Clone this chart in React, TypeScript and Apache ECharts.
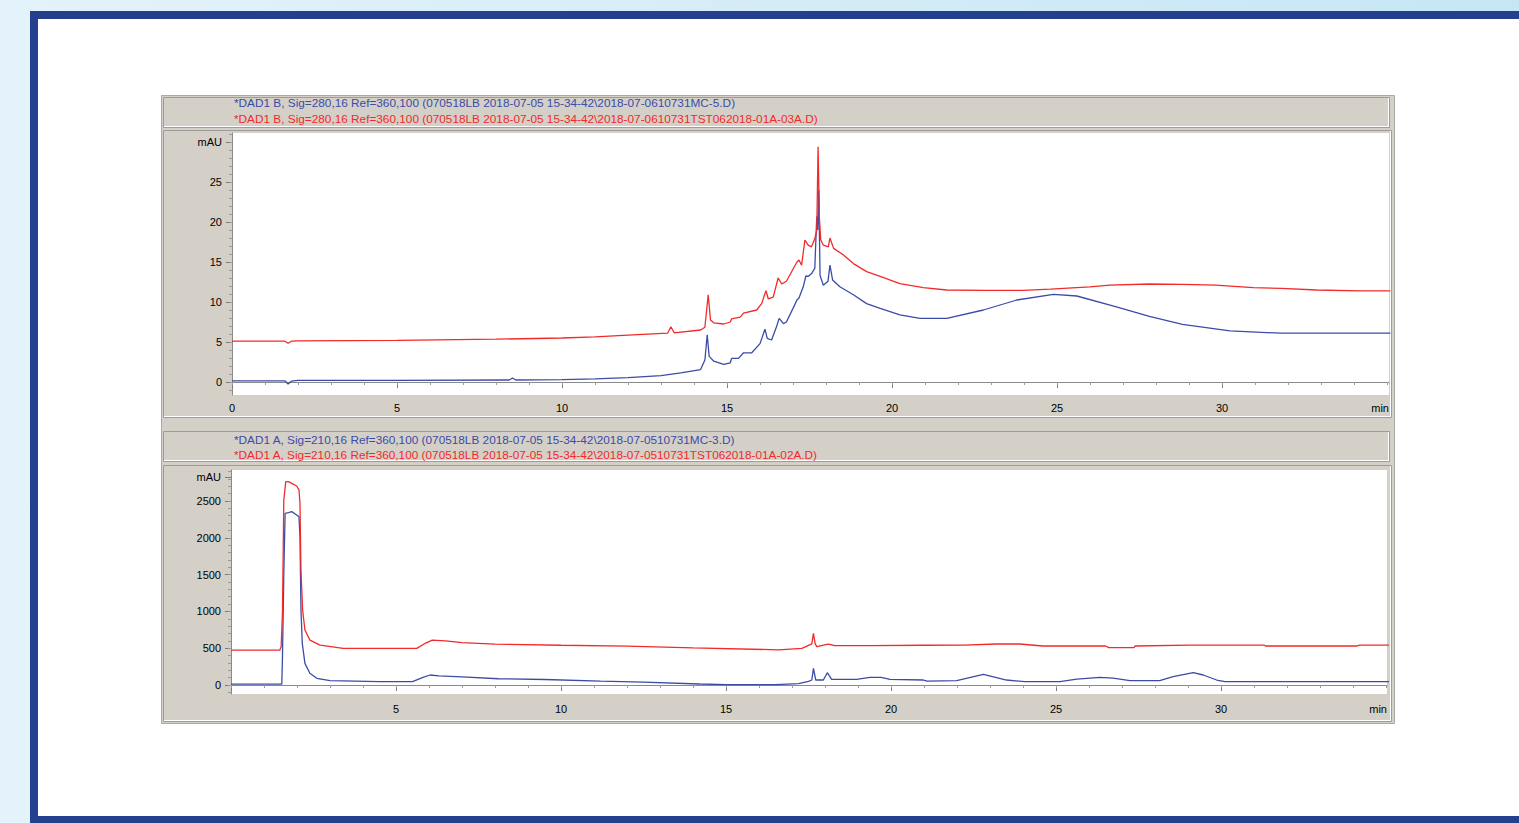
import React, { useEffect, useRef } from "react";
import * as echarts from "echarts";

// ---------- Data ----------
// Top panel: DAD1 B, 280 nm (mAU vs min)
const topMcTime = [0, 1.6, 1.7, 1.8, 2.0, 5, 8.4, 8.5, 8.6, 10, 11, 12, 13, 13.6, 14.2, 14.33, 14.4, 14.46, 14.6, 14.9, 15.1, 15.14, 15.35, 15.5, 15.75, 16.0, 16.15, 16.22, 16.35, 16.5, 16.58, 16.71, 16.8, 17.0, 17.12, 17.18, 17.31, 17.39, 17.46, 17.57, 17.66, 17.72, 17.75, 17.78, 17.82, 17.92, 18.06, 18.12, 18.2, 18.42, 18.83, 19.23, 19.64, 20.24, 20.85, 21.66, 22.77, 23.78, 24.89, 25.6, 26.8, 27.8, 28.8, 30.24, 31.76, 34.2, 35.1];
const topMcValue = [0.15, 0.15, -0.25, 0.1, 0.2, 0.2, 0.25, 0.5, 0.25, 0.3, 0.4, 0.55, 0.8, 1.15, 1.55, 2.75, 5.9, 3.2, 2.6, 2.2, 2.4, 2.95, 2.95, 3.65, 3.65, 4.8, 6.6, 5.45, 5.25, 6.9, 7.95, 7.3, 7.5, 9.2, 10.25, 10.5, 11.9, 13.25, 13.2, 13.6, 14.2, 20.7, 19.0, 24.0, 13.3, 12.1, 12.6, 14.6, 12.75, 11.9, 10.9, 9.8, 9.2, 8.4, 7.95, 7.95, 9.0, 10.25, 10.95, 10.75, 9.4, 8.2, 7.2, 6.4, 6.1, 6.1, 6.1];
const topTstTime = [0, 1.6, 1.7, 1.8, 2.0, 5, 8, 10, 11, 12, 13.2, 13.3, 13.4, 14.2, 14.33, 14.43, 14.5, 14.6, 14.9, 15.1, 15.14, 15.4, 15.5, 15.9, 16.05, 16.18, 16.25, 16.4, 16.55, 16.66, 16.8, 17.12, 17.18, 17.26, 17.36, 17.46, 17.56, 17.66, 17.72, 17.76, 17.8, 17.84, 17.92, 18.07, 18.12, 18.23, 18.52, 18.83, 19.23, 19.64, 20.24, 20.95, 21.66, 22.77, 23.98, 24.8, 26.0, 26.6, 27.8, 28.8, 29.8, 30.95, 31.8, 32.87, 34.2, 35.1];
const topTstValue = [5.1, 5.1, 4.85, 5.1, 5.15, 5.2, 5.35, 5.5, 5.65, 5.85, 6.1, 6.9, 6.15, 6.5, 6.85, 10.9, 7.75, 7.4, 7.25, 7.5, 7.9, 8.1, 8.6, 9.0, 9.8, 11.4, 10.4, 10.6, 13.0, 12.25, 12.6, 15.0, 15.25, 14.6, 17.75, 17.1, 16.9, 17.9, 19.0, 29.4, 20.5, 17.75, 17.1, 16.9, 18.0, 16.7, 15.9, 14.8, 13.8, 13.2, 12.3, 11.8, 11.5, 11.45, 11.45, 11.6, 11.9, 12.1, 12.25, 12.2, 12.1, 11.8, 11.7, 11.5, 11.4, 11.4];

// Bottom panel: DAD1 A, 210 nm (mAU vs min)
const botMcTime = [0, 1.54, 1.56, 1.6, 1.64, 1.74, 1.84, 1.99, 2.06, 2.09, 2.12, 2.16, 2.24, 2.39, 2.6, 3.0, 4.5, 5.5, 5.8, 6.03, 6.3, 7, 8.1, 9.5, 11.2, 12.5, 14.2, 15, 16.5, 17.2, 17.5, 17.6, 17.65, 17.72, 17.95, 18.07, 18.2, 18.96, 19.36, 19.7, 19.97, 20.98, 21.1, 21.99, 22.8, 23.5, 24.06, 25.12, 25.63, 26.33, 26.73, 27.24, 28.14, 28.55, 29.16, 29.46, 29.87, 30.12, 34.21, 35.1];
const botMcValue = [13, 13, 385, 1500, 2333, 2341, 2355, 2310, 2287, 2016, 1019, 566, 294, 159, 91, 59, 45, 45, 100, 136, 125, 110, 85, 75, 54, 40, 14, 5, 5, 20, 50, 68, 226, 68, 68, 167, 77, 77, 104, 104, 77, 68, 54, 59, 145, 68, 45, 45, 80, 104, 95, 59, 59, 113, 167, 136, 68, 45, 45, 45];
const botTstTime = [0, 1.48, 1.52, 1.56, 1.6, 1.66, 1.74, 1.84, 1.99, 2.06, 2.09, 2.12, 2.17, 2.24, 2.39, 2.7, 3.4, 5.63, 5.9, 6.1, 6.5, 7, 8, 10, 12, 14, 16.6, 17.3, 17.6, 17.65, 17.7, 17.75, 18.1, 18.3, 19.36, 21, 22.2, 23.2, 23.9, 24.6, 26.5, 26.6, 27.36, 27.4, 29.06, 31.3, 31.35, 34.1, 34.2, 35.1];
const botTstValue = [475, 475, 520, 1000, 2513, 2763, 2763, 2740, 2704, 2650, 2470, 1562, 1019, 747, 611, 543, 498, 498, 570, 611, 600, 575, 555, 540, 528, 505, 478, 498, 560, 702, 566, 520, 557, 535, 534, 540, 543, 557, 557, 530, 530, 507, 507, 530, 543, 543, 530, 530, 543, 543];

// Tick labels
const topYLabels = [0, 5, 10, 15, 20, 25];
const topXLabels = [0, 5, 10, 15, 20, 25, 30];
const botYLabels = [0, 500, 1000, 1500, 2000, 2500];
const botXLabels = [5, 10, 15, 20, 25, 30];

// Legend / header texts
const topHeaderBlue = "*DAD1 B, Sig=280,16 Ref=360,100 (070518LB 2018-07-05 15-34-42\\2018-07-0610731MC-5.D)";
const topHeaderRed = "*DAD1 B, Sig=280,16 Ref=360,100 (070518LB 2018-07-05 15-34-42\\2018-07-0610731TST062018-01A-03A.D)";
const botHeaderBlue = "*DAD1 A, Sig=210,16 Ref=360,100 (070518LB 2018-07-05 15-34-42\\2018-07-0510731MC-3.D)";
const botHeaderRed = "*DAD1 A, Sig=210,16 Ref=360,100 (070518LB 2018-07-05 15-34-42\\2018-07-0510731TST062018-01A-02A.D)";

const BLUE = "#3b4ca6";
const RED = "#f22a2a";
const GRAY = "#d4d0c8";
const FONT = "Liberation Sans, Arial, sans-serif";

function range(a: number, b: number, step: number) {
  const out: number[] = [];
  for (let v = a; v <= b + 1e-9; v += step) out.push(v);
  return out;
}
function pairs(t: number[], v: number[]) {
  return t.map((x, i) => [x, v[i]]);
}

export default function App() {
  const ref = useRef<HTMLDivElement>(null);
  useEffect(() => {
    document.body.style.margin = "0";
    const chart = echarts.init(ref.current!, undefined, { renderer: "svg" });

    const grids = [
      { left: 232, top: 133, width: 1157, height: 262 },
      { left: 231, top: 470, width: 1156, height: 224 },
    ];
    const xr = [35.06, 35.03];
    const yr = [
      [-1.625, 31.125],
      [-122, 2921],
    ];
    const tickColor = "#7a7a7a";
    const lbl = { color: "#000", fontSize: 11, fontFamily: FONT };

    const xAxis: any[] = [];
    const yAxis: any[] = [];
    [0, 1].forEach((g) => {
      const xl = g === 0 ? topXLabels : botXLabels;
      xAxis.push({
        type: "value", gridIndex: g, min: 0, max: xr[g],
        axisLine: { show: true, lineStyle: { color: "#8a8a8a", width: 1 } },
        axisTick: { show: true, length: 6, customValues: topXLabels, lineStyle: { color: tickColor } },
        axisLabel: { show: true, customValues: xl, margin: g === 0 ? 7 : 9, ...lbl },
        splitLine: { show: false },
      });
      xAxis.push({
        type: "value", gridIndex: g, min: 0, max: xr[g], position: "bottom",
        axisLine: { show: false },
        axisTick: { show: true, length: 3, customValues: range(0, 35, 1), lineStyle: { color: "#9a9a9a" } },
        axisLabel: { show: false },
        splitLine: { show: false },
      });
      const yl = g === 0 ? topYLabels : botYLabels;
      const mauVal = g === 0 ? 30 : 2826;
      yAxis.push({
        type: "value", gridIndex: g, min: yr[g][0], max: yr[g][1], position: "left",
        axisLine: { show: true, lineStyle: { color: "#8a8a8a", width: 1 } },
        axisTick: { show: true, length: 6, customValues: [...yl, mauVal], lineStyle: { color: tickColor } },
        axisLabel: {
          show: true, customValues: [...yl, mauVal], margin: 10, ...lbl,
          formatter: (v: number) => (v === mauVal ? "mAU" : String(v)),
        },
        splitLine: { show: false },
      });
      yAxis.push({
        type: "value", gridIndex: g, min: yr[g][0], max: yr[g][1], position: "left",
        axisLine: { show: false },
        axisTick: {
          show: true, length: 3,
          customValues: g === 0 ? range(-1, 31, 1) : range(-100, 2900, 100),
          lineStyle: { color: "#9a9a9a" },
        },
        axisLabel: { show: false },
        splitLine: { show: false },
      });
    });

    const lineSeries = (name: string, data: number[][], g: number, color: string) => ({
      type: "line", name, data, xAxisIndex: g * 2, yAxisIndex: g * 2,
      showSymbol: false, symbol: "none", smooth: false,
      lineStyle: { color, width: 1.3 }, z: 3,
    });

    const rect = (x: number, y: number, w: number, h: number, fill: string, stroke?: string, z = -5) => ({
      type: "rect", z, silent: true,
      shape: { x, y, width: w, height: h },
      style: { fill, stroke: stroke || "none", lineWidth: 1 },
    });
    const hline = (x1: number, x2: number, y: number, c: string, z = -4) => ({
      type: "line", z, silent: true, shape: { x1, y1: y, x2, y2: y }, style: { stroke: c, lineWidth: 1 },
    });
    const vline = (x: number, y1: number, y2: number, c: string, z = -4) => ({
      type: "line", z, silent: true, shape: { x1: x, y1, x2: x, y2 }, style: { stroke: c, lineWidth: 1 },
    });
    const text = (x: number, y: number, t: string, c: string, size = 11, align = "left") => ({
      type: "text", z: 10, silent: true, x, y,
      style: { text: t, fill: c, fontSize: size, fontFamily: FONT, textAlign: align, textVerticalAlign: "middle" },
    });

    const graphic: any[] = [
      {
        type: "rect", z: -10, silent: true, shape: { x: 0, y: 0, width: 1519, height: 823 },
        style: {
          fill: new echarts.graphic.LinearGradient(0, 0, 1, 0, [
            { offset: 0, color: "#e4f3fb" },
            { offset: 1, color: "#c6e6f5" },
          ]),
        },
      },
      rect(30, 11, 1500, 812, "#243f8d", undefined, -9),
      rect(38, 19, 1490, 797, "#ffffff", undefined, -8),
      // gray window
      rect(161.5, 95.5, 1233, 628, GRAY, "#a9a9a9", -7),
      // top header box
      rect(163.5, 97.5, 1226, 30, GRAY, "#9c9c9c", -6),
      hline(164, 1389, 126.5, "#ffffff"),
      vline(1388.5, 98, 127, "#ffffff"),
      // top plot frame
      rect(163.5, 130.5, 1228, 287, GRAY, "#9c9c9c", -6),
      vline(1390.5, 131, 417, "#ffffff"),
      hline(164, 1391, 416.5, "#ffffff"),
      rect(232, 133, 1157, 262, "#ffffff", undefined, -3),
      // bottom header box
      rect(163.5, 431.5, 1226, 30, GRAY, "#9c9c9c", -6),
      hline(164, 1389, 460.5, "#ffffff"),
      vline(1388.5, 432, 461, "#ffffff"),
      // bottom plot frame
      rect(163.5, 465.5, 1228, 256, GRAY, "#9c9c9c", -6),
      vline(1390.5, 466, 721, "#ffffff"),
      hline(164, 1391, 720.5, "#ffffff"),
      rect(231, 470, 1156, 224, "#ffffff", undefined, -3),
      // header texts
      text(234, 103, topHeaderBlue, BLUE, 11.8),
      text(234, 119, topHeaderRed, RED, 11.8),
      text(234, 440, botHeaderBlue, BLUE, 11.8),
      text(234, 455, botHeaderRed, RED, 11.8),
      // min labels
      text(1389, 408, "min", "#000", 11, "right"),
      text(1387, 709, "min", "#000", 11, "right"),
    ];

    chart.setOption({
      animation: false,
      grid: grids.map((g) => ({ ...g, containLabel: false, show: false })),
      xAxis,
      yAxis,
      graphic,
      series: [
        lineSeries("MC-5 (280 nm)", pairs(topMcTime, topMcValue), 0, BLUE),
        lineSeries("TST062018-01A-03A (280 nm)", pairs(topTstTime, topTstValue), 0, RED),
        lineSeries("MC-3 (210 nm)", pairs(botMcTime, botMcValue), 1, BLUE),
        lineSeries("TST062018-01A-02A (210 nm)", pairs(botTstTime, botTstValue), 1, RED),
      ],
    });
    return () => chart.dispose();
  }, []);
  return <div ref={ref} style={{ position: "absolute", left: 0, top: 0, width: 1519, height: 823 }} />;
}
